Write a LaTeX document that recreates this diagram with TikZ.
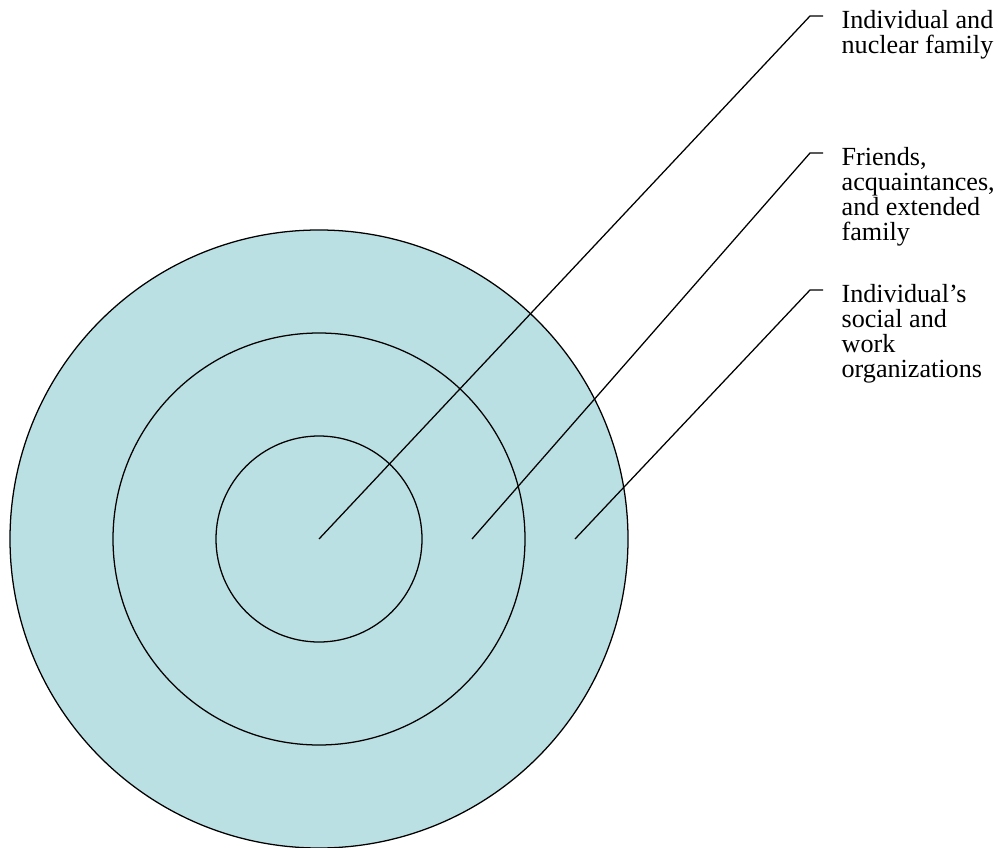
\documentclass[tikz,border=0pt]{standalone}
\usepackage{fontspec}
\setmainfont{Liberation Serif}
\begin{document}
\begin{tikzpicture}[x=0.75pt, y=-0.75pt, line width=0.95pt]
  \useasboundingbox (0,0) rectangle (1002,848);
  \definecolor{ring}{RGB}{187,224,227}
  \tikzset{lbl/.style={anchor=north west, inner sep=0pt, align=left,
      font=\fontsize{19.6}{18.75}\selectfont}}

  \coordinate (mid) at (319,539);
  \fill[ring] (mid) circle (309);
  \foreach \r in {103,206,309}
    \draw (mid) circle (\r);

  % callouts, drawn over the rings
  \foreach \n/\sx/\ky/\txt in {
    1/319/16/{Individual and\\nuclear family},
    2/472/153/{Friends,\\acquaintances,\\and extended\\family},
    3/575/290/{Individual’s\\social and\\work\\organizations}}{
      \coordinate (s\n) at (\sx,539);
      \coordinate (k\n) at (810,\ky);
      \draw (s\n) -- (k\n) -- ++(13,0) coordinate (e\n);
      \node[lbl] (t\n) at ([shift={(18,-6)}]e\n) {\txt};
    }
\end{tikzpicture}
\end{document}
